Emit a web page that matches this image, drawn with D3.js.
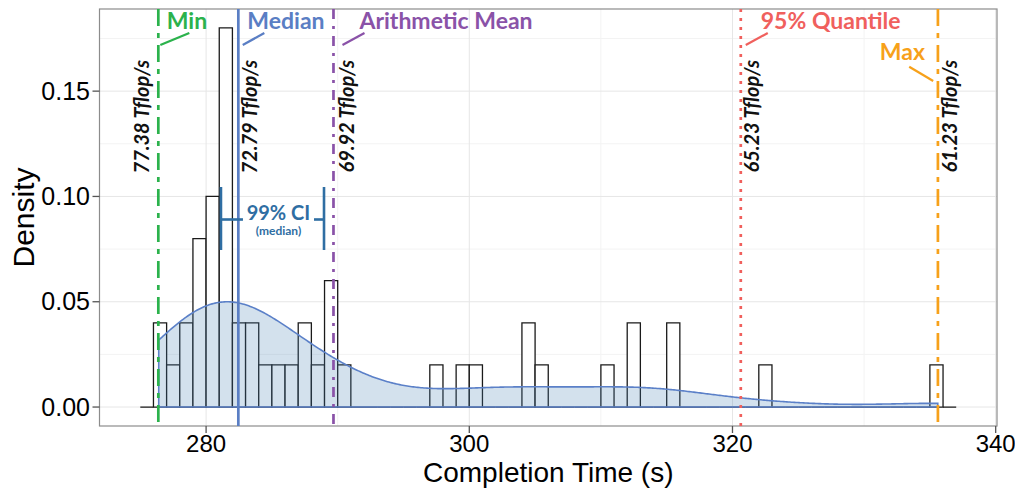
<!DOCTYPE html>
<html>
<head>
<meta charset="utf-8">
<script src="https://cdn.jsdelivr.net/npm/d3@7"></script>
<style>
  body { margin: 0; background: #fff; }
</style>
</head>
<body>
<script>
// completion times of the 50 runs (s)
const completionTimes = [
  276.4, 276.8, 277.5, 278.3, 278.7, 279.2, 279.5, 279.7, 279.9,
  280.1, 280.3, 280.5, 280.7, 280.9,
  281.1, 281.2, 281.3, 281.4, 281.5, 281.6, 281.7, 281.8, 281.9,
  282.1, 282.4, 283.0, 283.6, 284.5, 285.5, 286.5, 287.3, 287.7, 288.5,
  289.2, 289.5, 289.8, 290.4,
  297.5, 299.5, 300.5, 304.3, 304.7, 305.5, 310.5, 312.3, 312.7,
  315.3, 315.7, 322.4, 335.6
];

const markerNames = ['Min', 'Median', 'Arithmetic Mean', '95% Quantile', 'Max'];
const markerTimes = [276.37, 282.45, 289.68, 320.63, 335.61];
const markerRates = ['77.38 Tflop/s', '72.79 Tflop/s', '69.92 Tflop/s', '65.23 Tflop/s', '61.23 Tflop/s'];
const ciBounds = [281.13, 288.96];

const xTicks = [280, 300, 320, 340];
const xMinorTicks = [290, 310, 330];
const yTicks = [0, 0.05, 0.10, 0.15];
const yMinorTicks = [0.025, 0.075, 0.125, 0.175];

const width = 1015;
const height = 488;
const panel = {left: 99.5, right: 997, top: 9, bottom: 426};

// styling per marker (colour, dash, label offsets relative to the line)
const markerStyle = [
  {color: '#2bb24c', dash: '17,7,5,7', tx: 8.4, ty: 29, anchor: 'start', lead: [2, 45, 31, 33], rx: -9.5},
  {color: '#5a7ec4', dash: null, tx: 9, ty: 29, anchor: 'start', lead: [4.4, 45, 26, 33], rx: 19},
  {color: '#8a52a8', dash: '10,7,3,7', tx: 26, ty: 29, anchor: 'start', lead: [9, 45, 31, 33], rx: 20.5},
  {color: '#f0605d', dash: '3,6', tx: 20, ty: 29, anchor: 'start', lead: [5, 45, 27, 33], rx: 18},
  {color: '#f7a11a', dash: '17,7,5,7', tx: -13, ty: 60, anchor: 'end', lead: [-28.7, 66.7, -4.7, 81], rx: 19},
];

const svg = d3.select('body').append('svg')
  .attr('width', width)
  .attr('height', height);

const x = d3.scaleLinear().domain([271.9, 340.1]).range([panel.left, panel.right]);
const y = d3.scaleLinear().domain([-0.009, 0.189]).range([panel.bottom, panel.top]);

// grid
const grid = svg.append('g');
grid.selectAll('.vminor').data(xMinorTicks).join('line')
  .attr('x1', (d) => x(d)).attr('x2', (d) => x(d))
  .attr('y1', panel.top).attr('y2', panel.bottom)
  .attr('stroke', '#f3f3f3').attr('stroke-width', 1);
grid.selectAll('.hminor').data(yMinorTicks).join('line')
  .attr('x1', panel.left).attr('x2', panel.right)
  .attr('y1', (d) => y(d)).attr('y2', (d) => y(d))
  .attr('stroke', '#f3f3f3').attr('stroke-width', 1);
grid.selectAll('.vmajor').data(xTicks).join('line')
  .attr('x1', (d) => x(d)).attr('x2', (d) => x(d))
  .attr('y1', panel.top).attr('y2', panel.bottom)
  .attr('stroke', '#e6e6e6').attr('stroke-width', 1);
grid.selectAll('.hmajor').data(yTicks).join('line')
  .attr('x1', panel.left).attr('x2', panel.right)
  .attr('y1', (d) => y(d)).attr('y2', (d) => y(d))
  .attr('stroke', '#e6e6e6').attr('stroke-width', 1);

// histogram, 1 s bins, density scale; paths so that empty bins still show as a line
const n = completionTimes.length;
const bins = d3.bin()
  .domain([275, 337])
  .thresholds(d3.range(276, 337))(completionTimes);
const binDensity = (d) => d.length / (n * (d.x1 - d.x0));

svg.append('g').selectAll('path').data(bins).join('path')
  .attr('d', (d) => `M${x(d.x0)},${y(0)}V${y(binDensity(d))}H${x(d.x1)}V${y(0)}Z`)
  .attr('fill', '#fff')
  .attr('stroke', '#1a1a1a')
  .attr('stroke-width', 1.3);

// gaussian kernel density, bw.nrd0 like R
const sorted = completionTimes.slice().sort(d3.ascending);
const sd = d3.deviation(sorted);
const iqr = d3.quantile(sorted, 0.75) - d3.quantile(sorted, 0.25);
const bw = 0.9 * Math.min(sd, iqr / 1.34) * Math.pow(n, -0.2);
const [tMin, tMax] = d3.extent(sorted);
const gauss = (u) => Math.exp(-0.5 * u * u) / Math.sqrt(2 * Math.PI);
const kde = d3.range(512).map((i) => {
  const t = tMin + (tMax - tMin) * i / 511;
  return [t, d3.mean(sorted, (v) => gauss((t - v) / bw)) / bw];
});

const densityPts = [[tMin, 0], ...kde, [tMax, 0]];
svg.append('path')
  .datum(densityPts)
  .attr('d', d3.line().x((d) => x(d[0])).y((d) => y(d[1])).curve(d3.curveLinearClosed))
  .attr('fill', '#4682b4')
  .attr('fill-opacity', 0.24)
  .attr('stroke', '#5b80c8')
  .attr('stroke-width', 1.6);

// panel border
svg.append('rect')
  .attr('x', panel.left).attr('y', panel.top)
  .attr('width', panel.right - panel.left).attr('height', panel.bottom - panel.top)
  .attr('fill', 'none').attr('stroke', '#8c8c8c').attr('stroke-width', 1.2);

// marker lines and labels
const markers = markerNames.map((name, i) => ({name, t: markerTimes[i], rate: markerRates[i], s: markerStyle[i]}));

svg.append('g').selectAll('line').data(markers).join('line')
  .attr('x1', (d) => x(d.t)).attr('x2', (d) => x(d.t))
  .attr('y1', panel.top).attr('y2', panel.bottom)
  .attr('stroke', (d) => d.s.color)
  .attr('stroke-width', 2.7)
  .attr('stroke-dasharray', (d) => d.s.dash);

svg.append('g').selectAll('text').data(markers).join('text')
  .attr('x', (d) => x(d.t) + d.s.tx)
  .attr('y', (d) => d.s.ty)
  .attr('text-anchor', (d) => d.s.anchor)
  .attr('fill', (d) => d.s.color)
  .style('font', "bold 23px Lato")
  .text((d) => d.name);

svg.append('g').selectAll('line').data(markers).join('line')
  .attr('x1', (d) => x(d.t) + d.s.lead[0]).attr('y1', (d) => d.s.lead[1])
  .attr('x2', (d) => x(d.t) + d.s.lead[2]).attr('y2', (d) => d.s.lead[3])
  .attr('stroke', (d) => d.s.color)
  .attr('stroke-width', 2.2);

svg.append('g').selectAll('text').data(markers).join('text')
  .attr('transform', (d) => `translate(${x(d.t) + d.s.rx},60) rotate(-90)`)
  .attr('text-anchor', 'end')
  .attr('fill', '#111')
  .style('font', "italic bold 20px Lato")
  .text((d) => d.rate);

// 99% confidence interval of the median
const ciColor = '#2f6ea3';
const ci = svg.append('g');
const ciY = 219.5;
ci.selectAll('.bar').data(ciBounds).join('line')
  .attr('x1', (d) => x(d)).attr('x2', (d) => x(d))
  .attr('y1', 187).attr('y2', 250)
  .attr('stroke', ciColor).attr('stroke-width', 2.6);
ci.append('line')
  .attr('x1', x(ciBounds[0])).attr('x2', x(ciBounds[0]) + 22)
  .attr('y1', ciY).attr('y2', ciY)
  .attr('stroke', ciColor).attr('stroke-width', 2.6);
ci.append('line')
  .attr('x1', x(ciBounds[1]) - 10).attr('x2', x(ciBounds[1]))
  .attr('y1', ciY).attr('y2', ciY)
  .attr('stroke', ciColor).attr('stroke-width', 2.6);
const ciMid = (x(ciBounds[0]) + x(ciBounds[1])) / 2 + 6;
ci.append('text')
  .attr('x', ciMid).attr('y', 220)
  .attr('text-anchor', 'middle')
  .attr('fill', ciColor)
  .style('font', "bold 20px Lato")
  .text('99% CI');
ci.append('text')
  .attr('x', ciMid).attr('y', 235)
  .attr('text-anchor', 'middle')
  .attr('fill', ciColor)
  .style('font', "bold 12px Lato")
  .text('(median)');

// axes
const xAxis = svg.append('g');
xAxis.selectAll('line').data(xTicks).join('line')
  .attr('x1', (d) => x(d)).attr('x2', (d) => x(d))
  .attr('y1', panel.bottom).attr('y2', panel.bottom + 7)
  .attr('stroke', '#555').attr('stroke-width', 1.3);
xAxis.selectAll('text').data(xTicks).join('text')
  .attr('x', (d) => x(d)).attr('y', 451.5)
  .attr('text-anchor', 'middle')
  .style('font', "24px 'Liberation Sans'")
  .text((d) => d);

const yAxis = svg.append('g');
yAxis.selectAll('line').data(yTicks).join('line')
  .attr('x1', panel.left - 7).attr('x2', panel.left)
  .attr('y1', (d) => y(d)).attr('y2', (d) => y(d))
  .attr('stroke', '#555').attr('stroke-width', 1.3);
yAxis.selectAll('text').data(yTicks).join('text')
  .attr('x', 90).attr('y', (d) => y(d) + 8.6)
  .attr('text-anchor', 'end')
  .style('font', "25px 'Liberation Sans'")
  .text((d) => d3.format('.2f')(d));

svg.append('text')
  .attr('x', (panel.left + panel.right) / 2).attr('y', 481.5)
  .attr('text-anchor', 'middle')
  .style('font', "28px 'Liberation Sans'")
  .text('Completion Time (s)');

svg.append('text')
  .attr('transform', `translate(33.5,${(panel.top + panel.bottom) / 2}) rotate(-90)`)
  .attr('text-anchor', 'middle')
  .style('font', "30px 'Liberation Sans'")
  .text('Density');
</script>
</body>
</html>
